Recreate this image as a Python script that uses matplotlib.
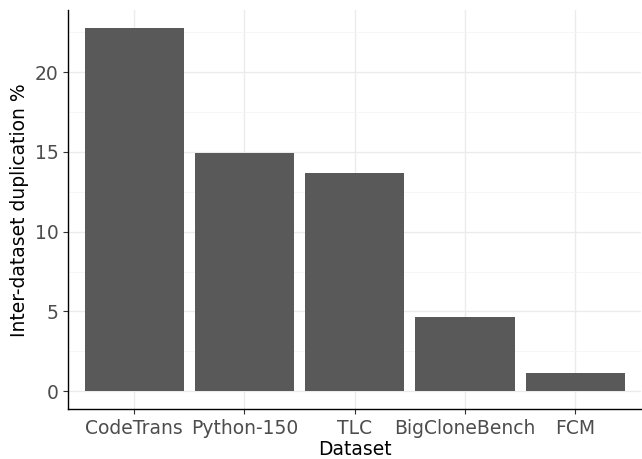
import matplotlib.pyplot as plt
from matplotlib.ticker import MultipleLocator

# Values
datasets = ["CodeTrans", "Python-150", "TLC", "BigCloneBench", "FCM"]
duplication_pct = [22.75, 14.95, 13.7, 4.65, 1.15]

fig = plt.figure(figsize=(6.42, 4.59), dpi=100)
ax = fig.add_axes([0.106, 0.108, 0.893, 0.87])

x = range(len(datasets))
ax.bar(x, duplication_pct, width=0.9, color="#595959", zorder=3)

ax.set_xlim(-0.6, len(datasets) - 0.4)
ymax = max(duplication_pct)
ax.set_ylim(-0.05 * ymax, ymax * 1.05)

ax.set_xticks(list(x))
ax.set_xticklabels(datasets)
ax.yaxis.set_major_locator(MultipleLocator(5))
ax.yaxis.set_minor_locator(MultipleLocator(2.5))

# ggplot-like classic theme with light grid
ax.grid(which="major", color="#EBEBEB", linewidth=1.0, zorder=0)
ax.grid(which="minor", axis="y", color="#F5F5F5", linewidth=0.6, zorder=0)
for side in ["top", "right"]:
    ax.spines[side].set_visible(False)
for side in ["left", "bottom"]:
    ax.spines[side].set_color("black")
    ax.spines[side].set_linewidth(1.0)

ax.tick_params(axis="both", which="major", colors="#333333", labelcolor="#4D4D4D",
               labelsize=13.5, length=3.5, width=0.8)
ax.tick_params(axis="both", which="minor", length=0)

ax.set_xlabel("Dataset", fontsize=13.5, color="black", labelpad=1)
ax.set_ylabel("Inter-dataset duplication %", fontsize=13.5, color="black", labelpad=4)

fig.savefig("out.png", dpi=100)
